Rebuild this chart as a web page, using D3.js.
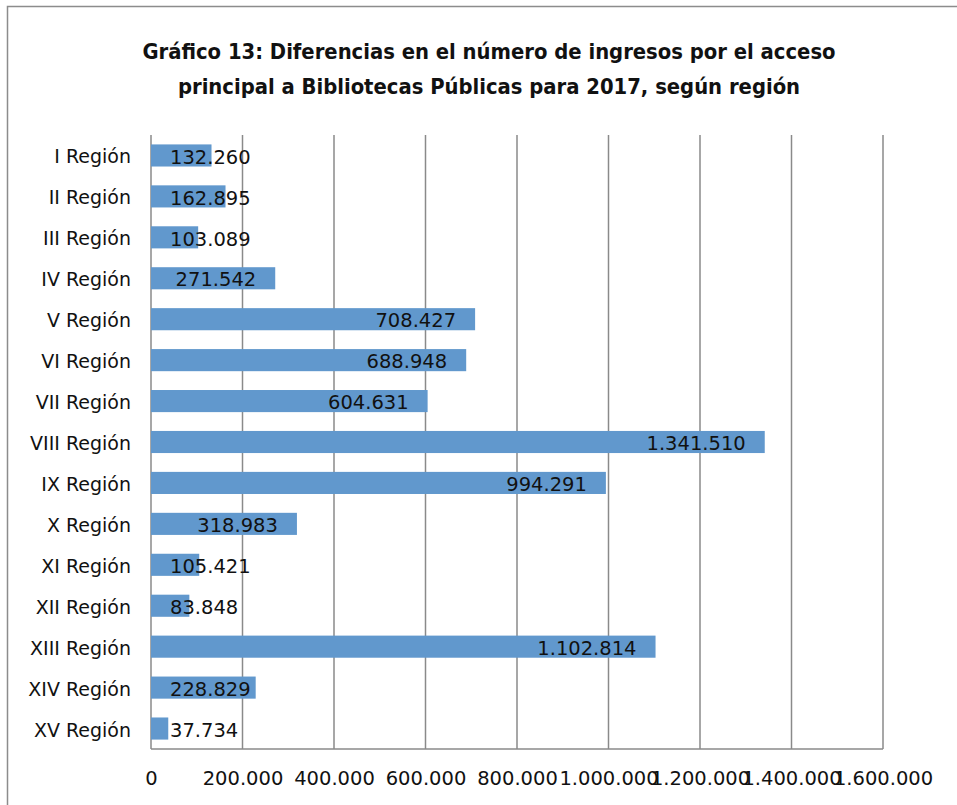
<!DOCTYPE html>
<html><head><meta charset="utf-8">
<script src="https://cdn.jsdelivr.net/npm/d3@7"></script>
<style>html,body{margin:0;padding:0;background:#fff;}svg{display:block;}</style>
</head><body>
<svg id="c" width="957" height="805"></svg>
<script>
const categories = ["I Región","II Región","III Región","IV Región","V Región","VI Región","VII Región","VIII Región","IX Región","X Región","XI Región","XII Región","XIII Región","XIV Región","XV Región"];
const values = [132260,162895,103089,271542,708427,688948,604631,1341510,994291,318983,105421,83848,1102814,228829,37734];
const tickValues = [0,200000,400000,600000,800000,1000000,1200000,1400000,1600000];
const titleLines = ["Gráfico 13: Diferencias en el número de ingresos por el acceso","principal a Bibliotecas Públicas para 2017, según región"];

const svg = d3.select("#c");
const fmt = v => d3.format(",")(v).replace(/,/g, ".");
const font = "'DejaVu Sans', sans-serif";

svg.append("rect").attr("x",7.5).attr("y",6.5).attr("width",1000).attr("height",1000)
  .attr("fill","none").attr("stroke","#8c8c8c").attr("stroke-width",1.5);

const T = svg.append("g");
titleLines.forEach((t,i)=>{
  T.append("text").attr("x",489).attr("y",59+i*34.5).attr("text-anchor","middle")
   .attr("font-family","'DejaVu Sans Condensed','DejaVu Sans',sans-serif").attr("font-weight","bold")
   .attr("font-size",21.8).attr("fill","#111").text(t);
});

const m = {left:151, right:883, top:135, bottom:749};
const x = d3.scaleLinear().domain([0,1600000]).range([m.left,m.right]);
const y = d3.scaleBand().domain(categories).range([m.top,m.bottom]).paddingInner(0.46).paddingOuter(0.23);

// gridlines
svg.append("g").selectAll("line").data(tickValues).join("line")
  .attr("x1",d=>x(d)).attr("x2",d=>x(d)).attr("y1",m.top).attr("y2",m.bottom)
  .attr("stroke","#8a8a8a").attr("stroke-width",1.5);

// bars
svg.append("g").selectAll("rect").data(values).join("rect")
  .attr("x",x(0)).attr("y",(d,i)=>y(categories[i])).attr("width",d=>x(d)-x(0))
  .attr("height",y.bandwidth()).attr("fill","#6198cd");

// axis line
svg.append("line").attr("x1",m.left).attr("x2",m.right).attr("y1",m.bottom).attr("y2",m.bottom)
  .attr("stroke","#8a8a8a").attr("stroke-width",1.5);

// x tick labels via axis
const xa = svg.append("g").attr("transform",`translate(0,${m.bottom})`)
  .call(d3.axisBottom(x).tickValues(tickValues).tickFormat(fmt).tickSize(0).tickPadding(22));
xa.select(".domain").remove();
xa.selectAll("text").attr("font-family",font).attr("font-size",19.5).attr("fill","#111");

// category labels
const ya = svg.append("g").attr("transform",`translate(${m.left-20},0)`)
  .call(d3.axisLeft(y).tickSize(0).tickPadding(0));
ya.select(".domain").remove();
ya.selectAll("text").attr("font-family",font).attr("font-size",19).attr("fill","#111").attr("dy","0.42em");

// data labels
const lg = svg.append("g");
values.forEach((v,i)=>{
  const t = lg.append("text").attr("font-family",font).attr("font-size",19.5).attr("fill","#111")
    .attr("text-anchor","end").attr("y",y(categories[i])+y.bandwidth()/2).attr("dy","0.42em").text(fmt(v));
  const w = t.node().getComputedTextLength();
  t.attr("x",Math.max(x(v)-19, m.left+19+w));
});
</script>
</body></html>
